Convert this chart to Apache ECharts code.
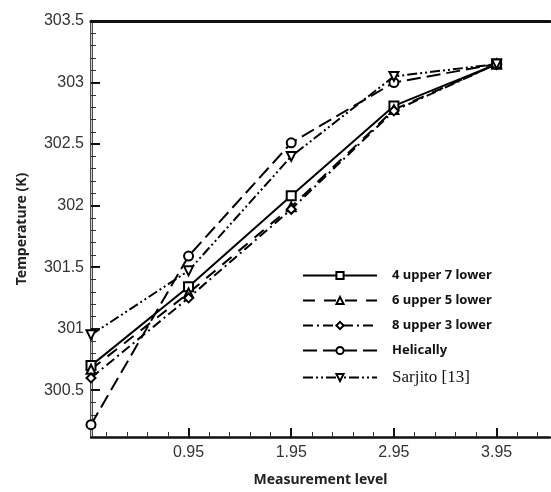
<!DOCTYPE html>
<html>
<head>
<meta charset="utf-8">
<script src="https://cdn.jsdelivr.net/npm/echarts@6/dist/echarts.min.js"></script>
<style>
  html, body { margin: 0; padding: 0; background: #fff; }
  #chart { width: 551px; height: 492px; }
</style>
</head>
<body>
<div id="chart"></div>
<script type="text/javascript">
	// measurement levels (x) and temperatures (K)
	var levels = [0, 0.95, 1.95, 2.95, 3.95];
	var upper4lower7 = [300.70, 301.34, 302.08, 302.81, 303.15];
	var upper6lower5 = [300.67, 301.29, 301.99, 302.78, 303.15];
	var upper8lower3 = [300.60, 301.25, 301.97, 302.77, 303.15];
	var helically = [300.22, 301.59, 302.51, 303.00, 303.15];
	var sarjito = [300.95, 301.47, 302.40, 303.05, 303.15];

	var xMajor = [0.95, 1.95, 2.95, 3.95];
	var xMinor = [0.15, 0.35, 0.55, 0.75, 1.15, 1.35, 1.55, 1.75, 2.15, 2.35, 2.55, 2.75, 3.15, 3.35, 3.55, 3.75, 4.15, 4.35];
	var yMajor = [300.5, 301, 301.5, 302, 302.5, 303, 303.5];
	var yMinor = [300.2, 300.3, 300.4, 300.6, 300.7, 300.8, 300.9, 301.1, 301.2, 301.3, 301.4, 301.6, 301.7, 301.8, 301.9,
		302.1, 302.2, 302.3, 302.4, 302.6, 302.7, 302.8, 302.9, 303.1, 303.2, 303.3, 303.4];

	var xMin = 0, xMax = 4.47, yMin = 300.12, yMax = 303.5;

	function pairs(ys) {
		return ys.map(function (y, i) { return [levels[i], y]; });
	}

	var chart = echarts.init(document.getElementById('chart'));

	var lineW = 2;
	function mkSeries(name, data, dash, symbol, rotate) {
		return {
			name: name,
			type: 'line',
			data: pairs(data),
			symbol: symbol,
			symbolSize: 9,
			symbolRotate: rotate || 0,
			showSymbol: true,
			animation: false,
			lineStyle: { color: '#000', width: lineW, type: dash },
			itemStyle: { color: '#000', borderColor: '#000', borderWidth: 1.5 }
		};
	}

	var option = {
		animation: false,
		grid: { left: 91, right: 1, top: 21, bottom: 50 },
		legend: {
			orient: 'vertical',
			left: 297,
			top: 264,
			itemWidth: 74,
			itemHeight: 9,
			itemGap: 12,
			data: ['4 upper 7 lower', '6 upper 5 lower', '8 upper 3 lower', 'Helically', 'Sarjito [13]'],
			formatter: function (name) {
				return name === 'Sarjito [13]' ? '{s|' + name + '}' : '{b|' + name + '}';
			},
			textStyle: {
				padding: [0, 0, 0, 10],
				rich: {
					b: { fontFamily: 'Noto Sans', fontWeight: 'bold', fontSize: 13, color: '#111' },
					s: { fontFamily: 'Liberation Serif', fontSize: 17, color: '#111' }
				}
			}
		},
		xAxis: [
			{
				type: 'value', min: xMin, max: xMax,
				name: 'Measurement level', nameLocation: 'middle', nameGap: 36,
				nameTextStyle: { fontFamily: 'Noto Sans', fontWeight: 'bold', fontSize: 14, color: '#222' },
				axisLine: { show: true, lineStyle: { color: '#111', width: 2.5 } },
				axisTick: { show: true, inside: true, length: 9, customValues: xMajor, lineStyle: { color: '#111', width: 2 } },
				axisLabel: { show: true, customValues: xMajor, margin: 8, fontFamily: 'Liberation Sans', fontSize: 16, color: '#333' },
				splitLine: { show: false }
			},
			{
				type: 'value', min: xMin, max: xMax, position: 'bottom',
				axisLine: { show: false },
				axisTick: { show: true, inside: true, length: 5, customValues: xMinor, lineStyle: { color: '#333', width: 1 } },
				axisLabel: { show: false },
				splitLine: { show: false }
			},
			{
				type: 'value', min: xMin, max: xMax, position: 'top',
				axisLine: { show: true, lineStyle: { color: '#111', width: 3 } },
				axisTick: { show: false },
				axisLabel: { show: false },
				splitLine: { show: false }
			}
		],
		yAxis: [
			{
				type: 'value', min: yMin, max: yMax,
				name: 'Temperature (K)', nameLocation: 'middle', nameGap: 62,
				nameTextStyle: { fontFamily: 'Noto Sans', fontWeight: 'bold', fontSize: 14, color: '#222' },
				axisLine: { show: true, lineStyle: { color: '#111', width: 2.5 } },
				axisTick: { show: true, inside: true, length: 9, customValues: yMajor, lineStyle: { color: '#111', width: 2 } },
				axisLabel: { show: true, customValues: yMajor, margin: 7, fontFamily: 'Liberation Sans', fontSize: 16, color: '#333' },
				splitLine: { show: false }
			},
			{
				type: 'value', min: yMin, max: yMax, position: 'left',
				axisLine: { show: false },
				axisTick: { show: true, inside: true, length: 5, customValues: yMinor, lineStyle: { color: '#333', width: 1 } },
				axisLabel: { show: false },
				splitLine: { show: false }
			},
			{
				type: 'value', min: yMin, max: yMax, position: 'right',
				axisLine: { show: true, lineStyle: { color: '#ccc', width: 1 } },
				axisTick: { show: false },
				axisLabel: { show: false },
				splitLine: { show: false }
			}
		],
		series: [
			mkSeries('4 upper 7 lower', upper4lower7, 'solid', 'emptyRect'),
			mkSeries('6 upper 5 lower', upper6lower5, [12, 9], 'emptyTriangle'),
			mkSeries('8 upper 3 lower', upper8lower3, [10, 4, 2, 4], 'emptyDiamond'),
			mkSeries('Helically', helically, [14, 6], 'emptyCircle'),
			mkSeries('Sarjito [13]', sarjito, [10, 3, 2, 3, 2, 3], 'emptyTriangle', 180)
		]
	};

	chart.setOption(option);
	window.onresize = function () {
		chart.resize();
	};
</script>
</body>
</html>
